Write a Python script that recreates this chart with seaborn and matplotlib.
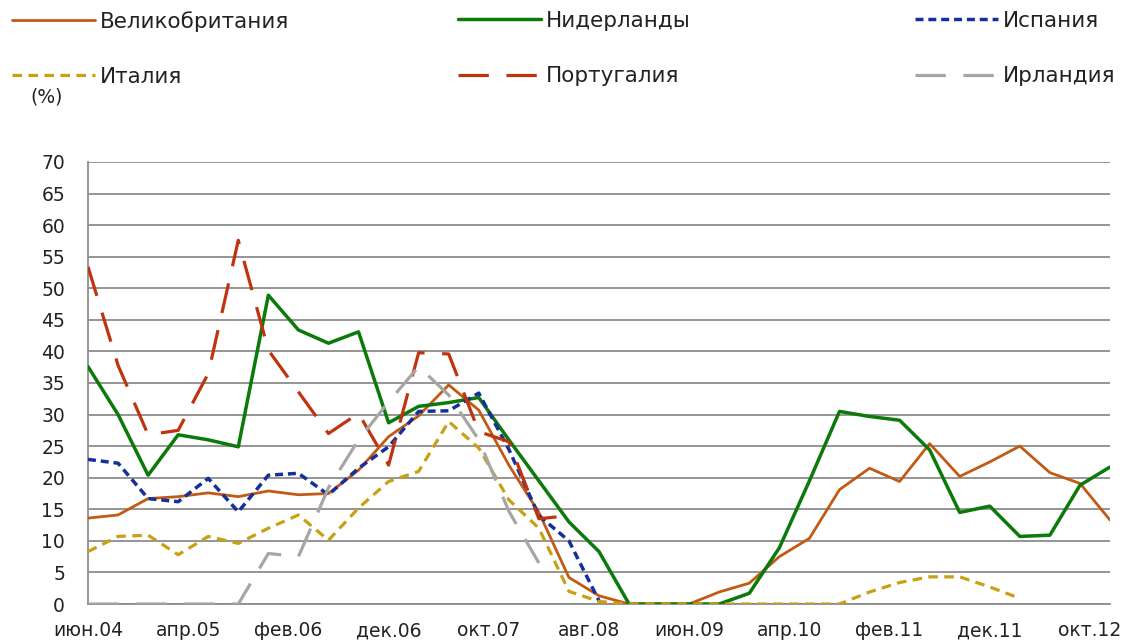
import numpy as np
import pandas as pd
import matplotlib
matplotlib.use("Agg")
import matplotlib.pyplot as plt
import seaborn as sns

# ---- data (quarterly, months since Jun 2004) ----
uk = [13.6, 14.1, 16.7, 17.0, 17.6, 17.0, 17.9, 17.3, 17.5, 21.2, 26.5, 29.8, 34.7, 30.7,
      22.0, 14.5, 4.2, 1.3, 0.0, 0.0, 0.0, 1.9, 3.3, 7.5, 10.4, 18.1, 21.5, 19.4, 25.4, 20.2,
      22.5, 25.0, 20.8, 19.1, 13.3]
nl = [37.6, 30.0, 20.4, 26.8, 26.0, 24.9, 48.9, 43.4, 41.3, 43.1, 28.7, 31.3, 31.9, 32.7,
      26.0, 19.5, 13.0, 8.3, 0.0, 0.0, 0.0, 0.0, 1.7, 8.9, 19.5, 30.5, 29.7, 29.1, 24.4, 14.5,
      15.5, 10.7, 10.9, 18.8, 21.7]
es = [22.9, 22.3, 16.7, 16.2, 19.9, 14.6, 20.4, 20.7, 17.3, 21.5, 24.9, 30.5, 30.6, 33.4,
      24.5, 14.0, 10.0, 0.5]
it = [8.3, 10.7, 10.9, 7.8, 10.7, 9.6, 12.0, 14.1, 10.1, 15.2, 19.4, 21.0, 28.9, 24.7,
      16.5, 12.0, 2.0, 0.4, 0.0, 0.0, 0.0, 0.0, 0.0, 0.0, 0.0, 0.0, 1.9, 3.4, 4.3, 4.3, 2.7, 0.9]
pt = [53.4, 37.8, 26.8, 27.5, 36.5, 57.6, 40.2, 33.6, 27.0, 30.2, 22.0, 39.8, 39.6, 27.3,
      25.7, 13.5, 14.0]
ie = [0.0, 0.0, 0.0, 0.0, 0.0, 0.0, 8.0, 7.5, 18.4, 26.0, 32.0, 37.6, 33.1, 26.0, 14.7, 6.5]

tick_labels = ['июн.04', 'апр.05', 'фев.06', 'дек.06', 'окт.07', 'авг.08', 'июн.09',
               'апр.10', 'фев.11', 'дек.11', 'окт.12']
names = ['Великобритания', 'Нидерланды', 'Испания', 'Италия', 'Португалия', 'Ирландия']

series = [
    (names[0], uk, dict(color='#C25A14', lw=2.0, ls='-')),
    (names[1], nl, dict(color='#0B7A0B', lw=2.5, ls='-')),
    (names[2], es, dict(color='#14309A', lw=2.5, ls=(0, (2.3, 1.4)))),
    (names[3], it, dict(color='#C9A012', lw=2.3, ls=(0, (3.0, 2.0)))),
    (names[4], pt, dict(color='#C0330F', lw=2.3, ls=(0, (9.5, 5.5)))),
    (names[5], ie, dict(color='#A6A6A6', lw=2.3, ls=(0, (9.5, 5.5)))),
]

sns.set_style("white")
plt.rcParams['font.family'] = ['DejaVu Sans']

fig = plt.figure(figsize=(11.28, 6.41), dpi=100)
ax = fig.add_axes([88 / 1128, 1 - 604 / 641, (1110 - 88) / 1128, (604 - 162) / 641])

handles = {}
for name, vals, st in series:
    x = np.arange(len(vals)) * 3
    df = pd.DataFrame({'x': x, 'y': vals})
    sns.lineplot(data=df, x='x', y='y', ax=ax, color=st['color'], linewidth=st['lw'],
                 linestyle=st['ls'], legend=False, zorder=3)
    handles[name] = ax.lines[-1]

ax.set_xlim(0, 102)
ax.set_ylim(0, 70)
ax.set_yticks(np.arange(0, 71, 5))
ax.set_xticks(np.arange(0, 101, 10))
ax.set_xticklabels(tick_labels)
ax.set_xlabel('')
ax.set_ylabel('')
ax.yaxis.grid(True, color='#8C8C8C', linewidth=1.3)
ax.xaxis.grid(False)
ax.set_axisbelow(True)
for s in ['top', 'right']:
    ax.spines[s].set_visible(False)
for s in ['left', 'bottom']:
    ax.spines[s].set_color('#8C8C8C')
    ax.spines[s].set_linewidth(1.3)
ax.tick_params(axis='both', which='major', labelsize=13.5, colors='#8C8C8C',
               labelcolor='#222222', length=5.5, width=1.3, direction='out')
ax.tick_params(axis='y', pad=11)
ax.tick_params(axis='x', pad=7)

fig.text(30 / 1128, 1 - 97 / 641, '(%)', fontsize=13.5, color='#222222', va='center', ha='left')

cols = [(names[0], names[3], 12), (names[1], names[4], 458), (names[2], names[5], 915)]
for a, b, xpx in cols:
    leg = fig.legend([handles[a], handles[b]], [a, b], loc='upper left',
                     bbox_to_anchor=(xpx / 1128, 1 - 11 / 641), frameon=False,
                     fontsize=15.5, handlelength=3.85, handletextpad=0.25,
                     labelspacing=1.63, borderpad=0, borderaxespad=0)
    for t in leg.get_texts():
        t.set_color('#222222')

fig.savefig('out.png', dpi=100)
